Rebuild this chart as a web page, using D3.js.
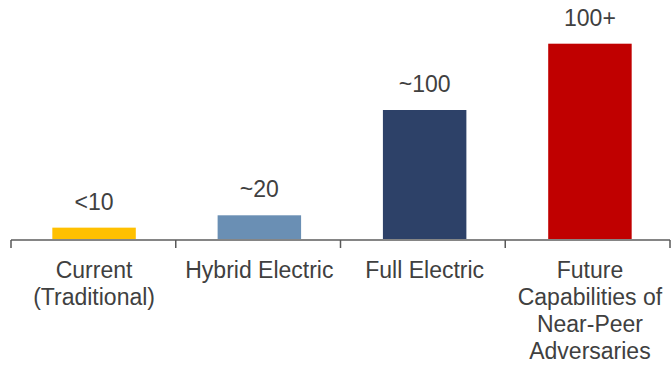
<!DOCTYPE html>
<html>
<head>
<meta charset="utf-8">
<script src="https://cdn.jsdelivr.net/npm/d3@7"></script>
<style>
  html, body { margin: 0; padding: 0; background: #ffffff; }
  svg { display: block; }
  text { font-family: "Liberation Sans", Arial, sans-serif; fill: #404040; }
</style>
</head>
<body>
<svg id="chart" width="671" height="365"></svg>
<script>
// Categories (each entry holds the wrapped lines of its axis label)
const categories = ["Current", "Hybrid", "Full", "Future"];
const categoryLines = [
  ["Current", "(Traditional)"],
  ["Hybrid Electric"],
  ["Full Electric"],
  ["Future", "Capabilities of", "Near-Peer", "Adversaries"]
];
// Bar values and the value labels printed above them
const values = [9.5, 19, 100, 151];
const valueLabels = ["<10", "~20", "~100", "100+"];
const barColors = ["#FFC000", "#6A8FB4", "#2D4168", "#C00000"];

const svg = d3.select("#chart");
const left = 11, right = 670, baseline = 240;

const x = d3.scaleBand()
  .domain(categories)
  .range([left, right + 3])
  .paddingInner(0.495)
  .paddingOuter(0.25);

const y = d3.scaleLinear()
  .domain([0, 100])
  .range([baseline, 110]);

// Bars
svg.append("g").selectAll("rect")
  .data(values)
  .join("rect")
  .attr("x", (d, i) => x(categories[i]))
  .attr("width", x.bandwidth())
  .attr("y", d => y(d))
  .attr("height", d => y(0) - y(d))
  .attr("fill", (d, i) => barColors[i]);

// Value labels above bars
svg.append("g").selectAll("text")
  .data(values)
  .join("text")
  .attr("x", (d, i) => x(categories[i]) + x.bandwidth() / 2)
  .attr("y", d => y(d) - 18)
  .attr("text-anchor", "middle")
  .style("font-size", "23px")
  .text((d, i) => valueLabels[i]);

// Category axis: horizontal line with ticks at the category boundaries
const axis = svg.append("g");
axis.append("line")
  .attr("x1", left).attr("x2", right)
  .attr("y1", y(0)).attr("y2", y(0))
  .attr("stroke", "#858585")
  .attr("stroke-width", 2);

const tickStep = (right - left) / categories.length;
const boundaries = d3.range(categories.length + 1).map(i => left + i * tickStep);
axis.selectAll("line.tick")
  .data(boundaries)
  .join("line")
  .attr("class", "tick")
  .attr("x1", d => d).attr("x2", d => d)
  .attr("y1", y(0)).attr("y2", y(0) + 8)
  .attr("stroke", "#595959")
  .attr("stroke-width", 1.5);

// Wrapped category labels
const labels = axis.selectAll("text")
  .data(categories)
  .join("text")
  .attr("text-anchor", "middle")
  .style("font-size", "23px")
  .attr("transform", d => `translate(${x(d) + x.bandwidth() / 2},${y(0) + 38})`);

labels.selectAll("tspan")
  .data((d, i) => categoryLines[i])
  .join("tspan")
  .attr("x", 0)
  .attr("y", (d, j) => j * 27)
  .text(d => d);
</script>
</body>
</html>
